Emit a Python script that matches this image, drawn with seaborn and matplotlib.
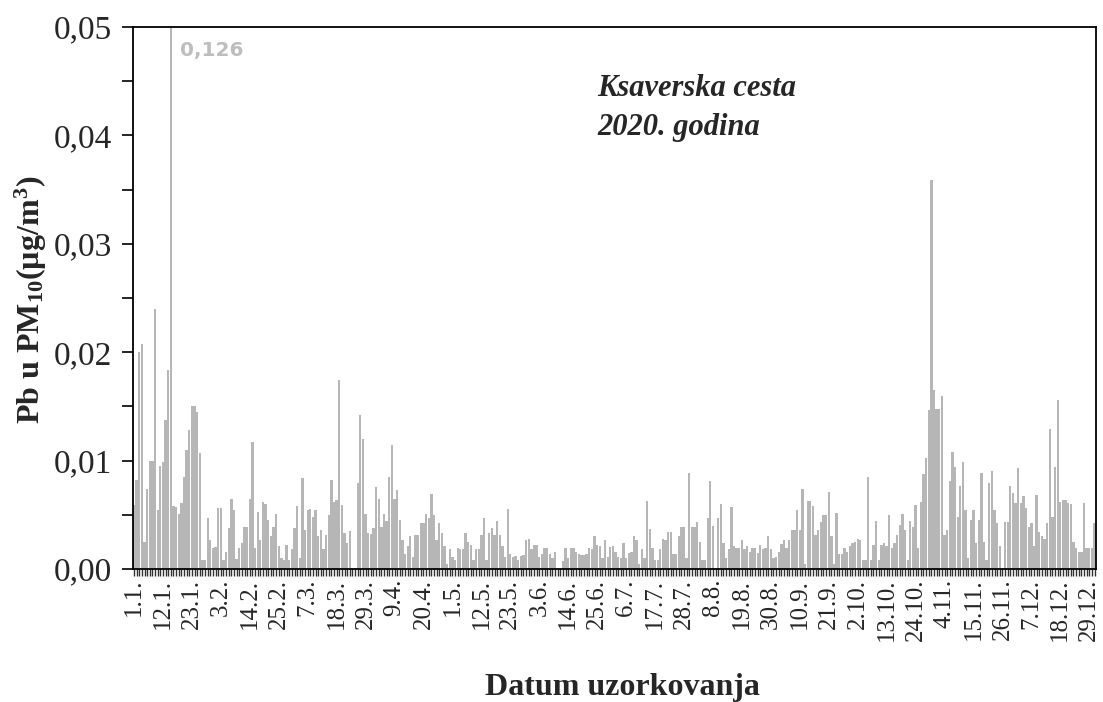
import numpy as np
import pandas as pd
import matplotlib
matplotlib.use("Agg")
import matplotlib.pyplot as plt
import seaborn as sns
from matplotlib.ticker import MultipleLocator, FuncFormatter

nan = np.nan

# Pb u PM10 (ug/m3), dnevne vrijednosti 2020. (nan = nema podatka)
jan = [0.0059, 0.0082, 0.0200, 0.0208, 0.0025, 0.0074, 0.0100, 0.0100, 0.0240, 0.0054,
       0.0095, 0.0099, 0.0137, 0.0184, 0.1260, 0.0058, 0.0057, 0.0051, 0.0061, 0.0085,
       0.0110, 0.0128, 0.0150, 0.0150, 0.0145, 0.0107, 0.0008, 0.0008, 0.0047, 0.0027,
       0.0019]
feb = [0.0020, 0.0056, 0.0056, 0.0008, 0.0016, 0.0038, 0.0065, 0.0054, 0.0009, 0.0019,
       0.0024, 0.0039, 0.0039, 0.0065, 0.0117, 0.0019, 0.0053, 0.0027, 0.0062, 0.0060,
       0.0045, 0.0030, 0.0039, 0.0051, 0.0021, 0.0010, 0.0008, 0.0022, 0.0008]
mar = [0.0018, 0.0038, 0.0058, 0.0010, 0.0084, 0.0036, 0.0054, 0.0055, 0.0048, 0.0054,
       0.0030, 0.0036, 0.0018, 0.0031, 0.0050, 0.0082, 0.0062, 0.0064, 0.0174, 0.0059,
       0.0033, 0.0024, 0.0035, nan, nan, 0.0079, 0.0142, 0.0120, 0.0051, 0.0033,
       0.0032]
apr = [0.0038, 0.0076, 0.0065, 0.0039, 0.0051, 0.0044, 0.0085, 0.0114, 0.0065, 0.0073,
       0.0045, 0.0027, 0.0014, 0.0021, 0.0030, 0.0011, 0.0031, 0.0031, 0.0042, 0.0042,
       0.0051, 0.0047, 0.0069, 0.0050, 0.0027, 0.0042, 0.0033, 0.0021, 0.0005, 0.0018]
may = [0.0011, 0.0008, 0.0019, 0.0018, 0.0018, 0.0033, 0.0025, 0.0022, 0.0008, 0.0018,
       0.0018, 0.0031, 0.0047, 0.0008, 0.0033, 0.0038, 0.0031, 0.0044, 0.0031, 0.0021,
       0.0011, 0.0055, 0.0014, 0.0011, 0.0012, 0.0008, 0.0012, 0.0013, 0.0027, 0.0028,
       0.0018]
jun = [0.0022, 0.0022, 0.0011, 0.0014, 0.0019, 0.0019, 0.0014, 0.0010, 0.0016, nan,
       nan, 0.0007, 0.0019, 0.0010, 0.0019, 0.0019, 0.0016, 0.0014, 0.0013, 0.0013,
       0.0014, 0.0019, 0.0018, 0.0030, 0.0022, 0.0021, 0.0010, 0.0027, 0.0011, 0.0020]
jul = [0.0021, 0.0016, 0.0011, 0.0010, 0.0024, 0.0010, 0.0015, 0.0016, 0.0030, 0.0027,
       0.0005, 0.0018, 0.0010, 0.0063, 0.0037, 0.0019, 0.0008, 0.0008, 0.0018, 0.0028,
       0.0027, 0.0034, 0.0034, 0.0014, 0.0014, 0.0030, 0.0039, 0.0039, 0.0010, 0.0089,
       0.0039]
aug = [0.0039, 0.0043, 0.0025, 0.0008, 0.0008, 0.0047, 0.0081, 0.0040, nan, 0.0047,
       0.0060, 0.0024, 0.0010, 0.0018, 0.0057, 0.0021, 0.0019, 0.0019, 0.0027, 0.0018,
       0.0021, 0.0016, 0.0019, 0.0019, 0.0015, 0.0022, 0.0018, 0.0019, 0.0030, 0.0018,
       0.0010]
sep = [0.0011, 0.0016, 0.0023, 0.0027, 0.0019, 0.0027, 0.0036, 0.0036, 0.0054, 0.0036,
       0.0074, 0.0005, 0.0063, 0.0063, 0.0058, 0.0031, 0.0036, 0.0043, 0.0050, 0.0050,
       0.0071, 0.0030, 0.0005, 0.0052, 0.0014, 0.0014, 0.0019, 0.0016, 0.0021, 0.0024]
oct_ = [0.0025, 0.0028, 0.0027, 0.0008, 0.0008, 0.0085, 0.0008, 0.0022, 0.0044, 0.0008,
        0.0022, 0.0024, 0.0021, 0.0050, 0.0019, 0.0024, 0.0031, 0.0041, 0.0051, 0.0036,
        0.0008, 0.0044, 0.0039, 0.0059, 0.0019, 0.0062, 0.0088, 0.0102, 0.0147, 0.0359,
        0.0165]
nov = [0.0148, 0.0148, 0.0160, 0.0031, 0.0036, 0.0081, 0.0108, 0.0094, 0.0048, 0.0077,
       0.0099, 0.0054, 0.0010, 0.0045, 0.0054, 0.0024, 0.0045, 0.0089, 0.0025, 0.0008,
       0.0079, 0.0090, 0.0054, 0.0042, 0.0021, nan, 0.0043, 0.0043, 0.0077, 0.0070]
dec = [0.0061, 0.0093, 0.0061, 0.0067, 0.0056, 0.0039, 0.0042, 0.0021, 0.0068, 0.0034,
       0.0030, 0.0028, 0.0042, 0.0129, 0.0048, 0.0094, 0.0156, 0.0062, 0.0064, 0.0064,
       0.0061, 0.0060, 0.0025, 0.0019, 0.0016, 0.0016, 0.0061, 0.0019, 0.0019, 0.0019,
       0.0042]

tick_labels = ["1.1.", "12.1.", "23.1.", "3.2.", "14.2.", "25.2.", "7.3.", "18.3.",
               "29.3.", "9.4.", "20.4.", "1.5.", "12.5.", "23.5.", "3.6.", "14.6.",
               "25.6.", "6.7.", "17.7.", "28.7.", "8.8.", "19.8.", "30.8.", "10.9.",
               "21.9.", "2.10.", "13.10.", "24.10.", "4.11.", "15.11.", "26.11.",
               "7.12.", "18.12.", "29.12."]
peak_label = "0,126"
station_text = "Ksaverska cesta\n2020. godina"

days = pd.date_range("2020-01-01", "2020-12-31", freq="D")
values = jan + feb + mar + apr + may + jun + jul + aug + sep + oct_ + nov + dec
df = pd.DataFrame({"datum": [f"{d.day}.{d.month}." for d in days], "pb": values})
order = list(df["datum"])

sns.set_style("white")
plt.rcParams["font.family"] = ["Liberation Serif", "DejaVu Serif"]
plt.rcParams["mathtext.fontset"] = "custom"
plt.rcParams["mathtext.rm"] = "Liberation Serif:bold"
plt.rcParams["mathtext.bf"] = "Liberation Serif:bold"
plt.rcParams["mathtext.it"] = "Liberation Serif:bold"

fig = plt.figure(figsize=(11.03, 7.02), dpi=100)
ax = fig.add_axes([0.1203, 0.1895, 0.8732, 0.772])

sns.barplot(data=df, x="datum", y="pb", order=order, color="#b6b6b6", saturation=1,
            width=0.88, errorbar=None, linewidth=0, ax=ax)

ax.set_xlim(-0.5, len(order) - 0.5)
ax.set_ylim(0, 0.05)

# y os
ax.yaxis.set_major_locator(MultipleLocator(0.01))
ax.yaxis.set_minor_locator(MultipleLocator(0.005))
ax.yaxis.set_major_formatter(FuncFormatter(lambda v, p: f"{v:.2f}".replace(".", ",")))
ax.tick_params(axis="y", which="both", direction="out", length=8, width=1.2,
               color="black", left=True, labelsize=24, pad=7)

# x os: oznaka svaki dan, natpis svakih 11 dana
pos = [order.index(t) for t in tick_labels]
ax.set_xticks(pos)
ax.set_xticklabels(tick_labels, rotation=90)
ax.set_xticks(range(len(order)), minor=True)
ax.tick_params(axis="x", which="both", direction="out", length=5, width=1,
               color="#333333", bottom=True, labelsize=18, pad=2)

for s in ax.spines.values():
    s.set_visible(True)
    s.set_color("black")
    s.set_linewidth(1.3)

ax.set_ylabel(r"Pb u PM$_{10}$(µg/m$^{3}$)", fontsize=23, fontweight="bold")
ax.yaxis.set_label_coords(-0.087, 0.496)
ax.set_xlabel("Datum uzorkovanja", fontsize=23, fontweight="bold")
ax.xaxis.set_label_coords(0.508, -0.192)

ax.text(17.3, 0.0478, peak_label, color="#bdbdbd", fontsize=14.5, fontweight="bold",
        family=["DejaVu Sans"], va="center", ha="left")
ax.text(176, 0.0457, station_text, fontsize=22, fontweight="bold", style="italic",
        va="top", ha="left", linespacing=1.45)

fig.savefig("out.png", dpi=100)
